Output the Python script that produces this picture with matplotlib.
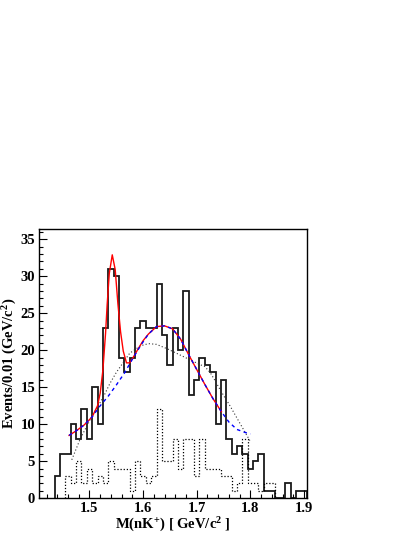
#!/usr/bin/env python3
import numpy as np
import matplotlib
matplotlib.use("Agg")
import matplotlib.pyplot as plt
from matplotlib.ticker import MultipleLocator

# data histogram, 0.01 bins starting at bin_lo
bin_lo = 1.435
bin_w = 0.01
data_counts = [3, 6, 6, 10, 8, 12, 8, 15, 10, 23, 31, 30, 19, 17, 19, 23,
               24, 23, 23, 29, 22, 18, 23, 20, 28, 14, 16, 19, 18, 17, 10,
               16, 8, 6, 7, 6, 4, 5, 6, 1, 1, 0, 0, 2, 0, 1, 1]

# dotted (background) histogram
bkg_lo = 1.455
bkg_counts = [3, 2, 5, 2, 4, 2, 3, 2, 5, 4, 4, 4, 1, 5, 3, 2, 3, 12, 5, 5,
              8, 4, 8, 8, 3, 8, 4, 4, 4, 3, 3, 1, 2, 8, 2, 2, 1, 2, 2]

# fit curves
fit_x = [1.462, 1.475, 1.490, 1.505, 1.515, 1.520, 1.525, 1.530, 1.533,
         1.537, 1.5425, 1.548, 1.553, 1.558, 1.563, 1.569, 1.575, 1.582,
         1.590, 1.600, 1.610, 1.625, 1.640, 1.655, 1.670, 1.685, 1.700,
         1.715, 1.730, 1.746]
fit_y = [8.5, 9.1, 9.9, 11.0, 12.5, 14.2, 17.3, 22.3, 26.2, 30.4, 32.9,
         30.9, 26.3, 22.5, 19.9, 18.3, 18.3, 19.1, 20.1, 21.3, 22.2, 23.2,
         23.3, 22.9, 21.5, 19.4, 17.4, 15.4, 13.5, 11.7]

bg_x = [1.462, 1.475, 1.490, 1.505, 1.520, 1.535, 1.550, 1.565, 1.580,
        1.595, 1.610, 1.625, 1.640, 1.655, 1.670, 1.685, 1.700, 1.715,
        1.730, 1.745, 1.760, 1.775, 1.790, 1.800]
bg_y = [8.5, 9.1, 9.9, 11.0, 12.5, 13.8, 15.3, 16.9, 18.8, 20.6, 22.2,
        23.2, 23.3, 22.9, 21.5, 19.4, 17.4, 15.4, 13.5, 11.8, 10.3, 9.3,
        8.9, 8.7]

ps_x = [1.467, 1.482, 1.501, 1.526, 1.538, 1.550, 1.575, 1.595, 1.610,
        1.625, 1.645, 1.665, 1.685, 1.705, 1.715, 1.725, 1.735, 1.745,
        1.762, 1.780, 1.799]
ps_y = [5.2, 7.9, 10.6, 13.7, 15.5, 17.0, 19.6, 20.6, 20.9, 20.8, 20.2,
        19.5, 18.8, 18.1, 17.8, 17.0, 15.8, 14.5, 12.5, 10.2, 7.8]

plt.rcParams['font.family'] = 'Liberation Serif'
plt.rcParams['font.weight'] = 'bold'
plt.rcParams['mathtext.fontset'] = 'custom'
plt.rcParams['mathtext.rm'] = 'Liberation Serif:bold'
plt.rcParams['mathtext.it'] = 'Liberation Serif:bold'
plt.rcParams['mathtext.bf'] = 'Liberation Serif:bold'

fig = plt.figure(figsize=(4.15, 5.37), dpi=100)
ax = fig.add_axes([0.0928, 0.0721, 0.6462, 0.5009])

edges = bin_lo + bin_w * np.arange(len(data_counts) + 1)
ax.stairs(data_counts, edges, baseline=0, color="0.1", lw=1.3)
bedges = bkg_lo + bin_w * np.arange(len(bkg_counts) + 1)
ax.stairs(bkg_counts, bedges, baseline=0, color="k", lw=0.9,
          linestyle=(0, (1, 1.5)))

ax.plot(ps_x, ps_y, color="0.2", lw=0.8, linestyle=(0, (1, 2)))
ax.plot(fit_x, fit_y, color="#ff0000", lw=1.0)
ax.plot(bg_x, bg_y, color="#0000ff", lw=1.0, linestyle=(0, (2.5, 2.5)))

ax.set_xlim(1.405, 1.905)
ax.set_ylim(0, 36.35)
ax.xaxis.set_major_locator(MultipleLocator(0.1))
ax.xaxis.set_minor_locator(MultipleLocator(0.02))
ax.yaxis.set_major_locator(MultipleLocator(5))
ax.yaxis.set_minor_locator(MultipleLocator(1))
ax.tick_params(which="both", direction="in", top=False, right=False,
               width=0.8, labelsize=10.5)
ax.tick_params(which="major", length=6)
ax.tick_params(which="minor", length=3)
ax.tick_params(axis="x", pad=2.5)
ax.tick_params(axis="y", pad=2.5)
for lbl in ax.get_xticklabels() + ax.get_yticklabels():
    lbl.set_fontweight("bold")
for s in ax.spines.values():
    s.set_linewidth(1.0)

ax.set_xlabel("M(nK$^{+}$) [ GeV/c$^{2}$ ]", fontsize=10.5,
              fontweight="bold", labelpad=1)
ax.set_ylabel("Events/0.01 (GeV/c$^{2}$)", fontsize=10.5,
              fontweight="bold", labelpad=1)

plt.savefig("out.png", dpi=100)
